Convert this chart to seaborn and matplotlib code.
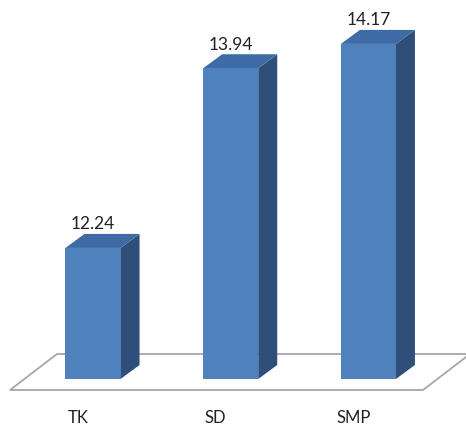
import matplotlib
matplotlib.use("Agg")
import matplotlib.pyplot as plt
from matplotlib.patches import Polygon
from matplotlib.transforms import ScaledTranslation
import seaborn as sns
import pandas as pd

categories = ["TK", "SD", "SMP"]
values = [12.24, 13.94, 14.17]
value_labels = ["12.24", "13.94", "14.17"]

sns.set_theme(style="white")
plt.rcParams['font.family'] = ['Lato', 'DejaVu Sans']

W, H = 466, 426
fig = plt.figure(figsize=(W / 100, H / 100), dpi=100)
base_px = 379          # pixel row (from top) of the value-axis base
ymin, ymax = 11.0, 14.5
px_per_unit = 105.7
ax_h_px = (ymax - ymin) * px_per_unit
ax = fig.add_axes([0, (H - base_px) / H, 1, ax_h_px / H])

df = pd.DataFrame({"cat": categories, "val": values})
front = "#4F81BD"
side = "#2F4F7A"
top = "#3E6BA6"
sns.barplot(data=df, x="cat", y="val", color=front, saturation=1, width=0.40,
            ax=ax, zorder=3, edgecolor="none", linewidth=0)

spacing = 137.7
ax.set_xlim(-93 / spacing, (W - 93) / spacing)
ax.set_ylim(ymin, ymax)
for s in ax.spines.values():
    s.set_visible(False)
ax.set_yticks([])
ax.set_xlabel("")
ax.set_ylabel("")
ax.tick_params(axis="x", length=0, pad=22, labelsize=12, labelcolor="#222222")

def px2x(px):
    return (px - 93) / spacing

def py2y(py):
    return ymin + (base_px - py) / px_per_unit

# floor
floor = Polygon([(px2x(10), py2y(390)), (px2x(423), py2y(390)),
                 (px2x(470), py2y(354)), (px2x(57), py2y(354))],
                closed=True, facecolor="white", edgecolor="#A6A6A6",
                lw=1.3, clip_on=False, zorder=1)
ax.add_patch(floor)

dx = 19 / spacing
dy = 14 / px_per_unit
for p, lab in zip(ax.patches[:len(values)], value_labels):
    x0 = p.get_x()
    x1 = x0 + p.get_width()
    h = p.get_y() + p.get_height()
    b = ymin
    sidep = Polygon([(x1, b), (x1 + dx, b + dy), (x1 + dx, h + dy), (x1, h)],
                    closed=True, facecolor=side, edgecolor="none", zorder=2,
                    clip_on=False)
    topp = Polygon([(x0, h), (x1, h), (x1 + dx, h + dy), (x0 + dx, h + dy)],
                   closed=True, facecolor=top, edgecolor="none", zorder=2,
                   clip_on=False)
    ax.add_patch(sidep)
    ax.add_patch(topp)
    ax.text((x0 + x1) / 2, h + dy + 1.5 / px_per_unit, lab, ha="center",
            va="bottom", fontsize=12.5, color="#222222", zorder=4)

for t in ax.get_xticklabels():
    t.set_transform(t.get_transform() + ScaledTranslation(-15 / 100, 0, fig.dpi_scale_trans))

fig.savefig("out.png", dpi=100, facecolor="white")
